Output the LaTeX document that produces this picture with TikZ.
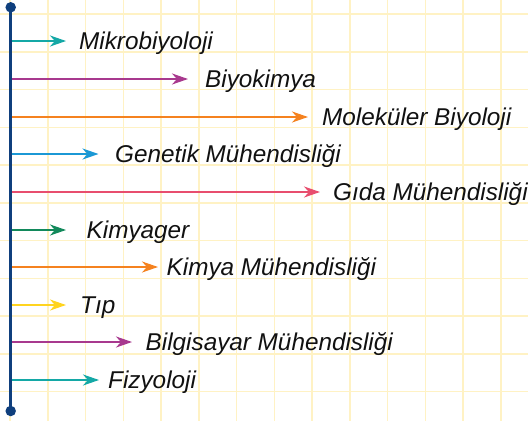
\documentclass[tikz,border=0pt]{standalone}
\usepackage{fontspec}
\setmainfont{Liberation Sans}
\usetikzlibrary{arrows.meta}
\definecolor{gridc}{HTML}{FFF2C4}
\definecolor{axisc}{HTML}{0F3F7D}
\definecolor{cteal}{HTML}{14A8A6}
\definecolor{cpurple}{HTML}{A8398E}
\definecolor{corange}{HTML}{F5821F}
\definecolor{cblue}{HTML}{1B98D5}
\definecolor{cpink}{HTML}{E84E6E}
\definecolor{cgreen}{HTML}{12895B}
\definecolor{cyellow}{HTML}{FFD41F}
\definecolor{textc}{HTML}{111111}
\tikzset{
  gridline/.style={draw=gridc, line width=1.5pt},
  axisline/.style={draw=axisc, line width=2.8pt},
  axisdot/.style={circle, fill=axisc, inner sep=0pt, minimum size=10.5pt},
  branch/.style={line width=2pt, -{Stealth[length=16pt,width=11pt,inset=5pt]}},
  lbl/.style={anchor=base west, inner sep=0pt, text=textc, font=\fontsize{24.3}{28}\selectfont\itshape},
}
\begin{document}
\begin{tikzpicture}[x=1pt,y=-1pt]
\useasboundingbox (0,0) rectangle (528,421);
\fill[white] (0,0) rectangle (528,421);
\foreach \k in {0,...,13} {\draw[gridline] ({10+37.75*\k},0) -- ({10+37.75*\k},421);}
\foreach \k in {0,...,10} {\draw[gridline] (0,{14+37.75*\k}) -- (528,{14+37.75*\k});}
\node[axisdot] (top) at (10.7,7.3) {};
\node[axisdot] (bot) at (10.7,411) {};
\draw[axisline] (top.center) -- (bot.center);
\foreach \i/\y/\tx/\lx/\c/\t in {
  1/41/66/79/cteal/Mikrobiyoloji,
  2/79/188/205/cpurple/Biyokimya,
  3/117/308/322/corange/Moleküler Biyoloji,
  4/154/98.5/115/cblue/Genetik Mühendisliği,
  5/192/320/333/cpink/Gıda Mühendisliği,
  6/230/66/86.5/cgreen/Kimyager,
  7/267/158/166.5/corange/Kimya Mühendisliği,
  8/305/66/80/cyellow/Tıp,
  9/342/132/145.5/cpurple/Bilgisayar Mühendisliği,
  10/380/99/108/cteal/Fizyoloji} {
  \coordinate (s\i) at (12,\y);
  \coordinate (e\i) at (\tx,\y);
  \node[lbl] (l\i) at (\lx,\y+8.5) {\t};
  \draw[branch, draw=\c, fill=\c] (s\i) -- (e\i);
}
\end{tikzpicture}
\end{document}
